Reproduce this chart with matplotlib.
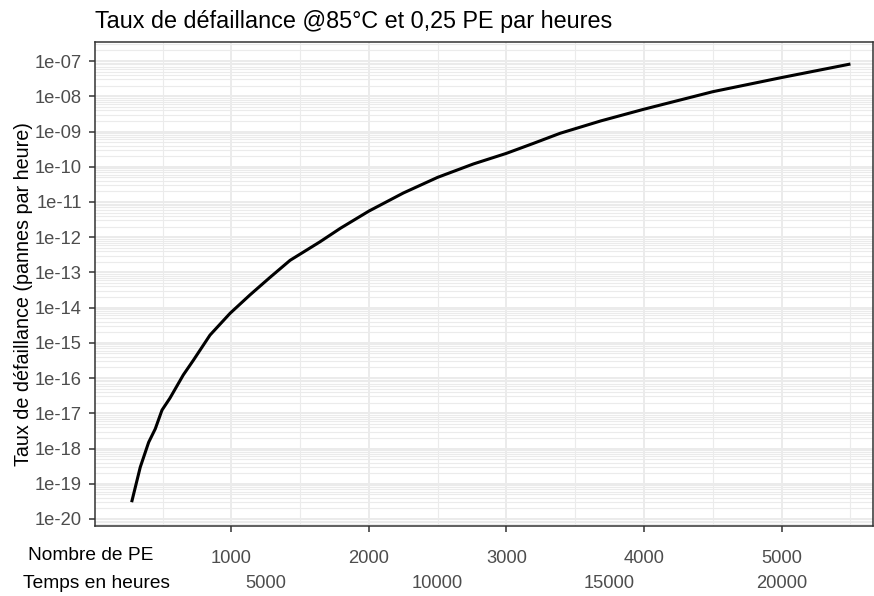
import numpy as np
import matplotlib.pyplot as plt
import matplotlib.transforms as mtransforms
from matplotlib.ticker import LogLocator, FixedLocator, NullFormatter

plt.rcParams['font.family'] = ['Liberation Sans', 'DejaVu Sans']

# Courbe : nombre de PE et taux de defaillance
pe = [278, 338, 399, 447, 496, 554, 651, 724, 845, 991, 1136, 1281, 1427,
      1645, 1794, 2000, 2251, 2500, 2760, 3000, 3196, 3390, 3686, 4000,
      4500, 5000, 5490]
taux = [3.3e-20, 2.95e-19, 1.5e-18, 3.6e-18, 1.23e-17, 2.7e-17, 1.23e-16,
        3.2e-16, 1.66e-15, 6.9e-15, 2.3e-14, 7.2e-14, 2.2e-13, 7.4e-13,
        1.8e-12, 5.5e-12, 1.8e-11, 5.0e-11, 1.2e-10, 2.4e-10, 4.6e-10,
        8.9e-10, 2.0e-09, 4.3e-09, 1.35e-08, 3.4e-08, 8.1e-08]

pe_ticks = [1000, 2000, 3000, 4000, 5000]
heures_ticks = [5000, 10000, 15000, 20000]
pe_par_heure = 0.25
y_ticks = [10.0 ** k for k in range(-20, -6)]

title = "Taux de défaillance @85°C et 0,25 PE par heures"
ylabel = "Taux de défaillance (pannes par heure)"

grey_txt = '#4D4D4D'
grid_col = '#EBEBEB'

fig = plt.figure(figsize=(8.74, 5.96), dpi=100)
ax = fig.add_axes([95 / 874, 1 - 526 / 596, 778 / 874, (526 - 41.7) / 596])

ax.plot(pe, taux, color='black', lw=2.2, zorder=3)

ax.set_yscale('log')
ax.set_xlim(9, 5665)
ax.set_ylim(10 ** -20.2, 10 ** -6.45)

ax.set_yticks(y_ticks)
ax.set_yticklabels([f"1e-{-k:02d}" for k in range(-20, -6)])
ax.yaxis.set_minor_locator(LogLocator(base=10, subs=np.arange(2, 10), numticks=100))
ax.yaxis.set_minor_formatter(NullFormatter())

ax.set_xticks(pe_ticks)
ax.set_xticklabels([str(v) for v in pe_ticks])
ax.xaxis.set_minor_locator(FixedLocator([500, 1500, 2500, 3500, 4500, 5500]))

ax.grid(which='major', color=grid_col, lw=1.4, zorder=0)
ax.grid(which='minor', color=grid_col, lw=0.8, zorder=0)
ax.tick_params(which='minor', length=0)
ax.tick_params(axis='y', which='major', length=4.5, width=1.1, color='#333333',
               labelsize=13.2, labelcolor=grey_txt, pad=5)
ax.tick_params(axis='x', which='major', length=4.5, width=1.1, color='#333333',
               labelsize=13.2, labelcolor=grey_txt, pad=13)
for s in ax.spines.values():
    s.set_color('#333333')
    s.set_linewidth(1.1)

ax.set_ylabel(ylabel, fontsize=14.2, color='black')
ax.yaxis.set_label_coords(-0.08, 0.478)

ax.set_title(title, fontsize=16.8, loc='left', pad=10)

# deuxieme ligne : temps en heures sous les PE
trans = mtransforms.blended_transform_factory(ax.transData, fig.transFigure)
for h in heures_ticks:
    ax.text(h * pe_par_heure, 1 - 583.5 / 596, str(h), transform=trans,
            ha='center', va='center', fontsize=13.2, color=grey_txt)

fig.text(153 / 874, 1 - 556 / 596, "Nombre de PE", ha='right', va='center',
         fontsize=13.8, color='black')
fig.text(170 / 874, 1 - 583.5 / 596, "Temps en heures", ha='right', va='center',
         fontsize=13.8, color='black')

fig.savefig('out.png', dpi=100)
